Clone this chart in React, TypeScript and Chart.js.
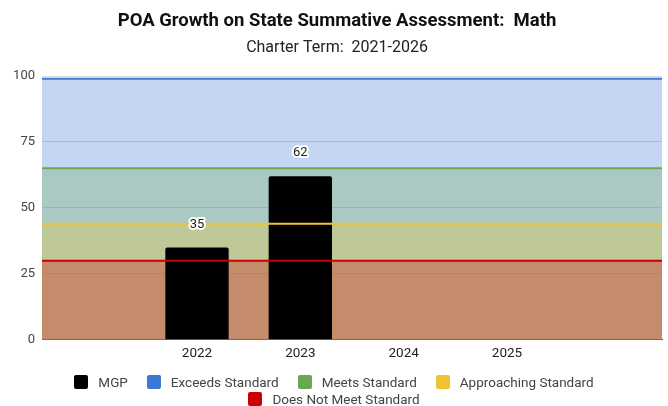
import React, { useEffect, useRef } from "react";
import { Chart, registerables } from "chart.js";

Chart.register(...registerables);

const titleText = "POA Growth on State Summative Assessment:  Math";
const subtitleText = "Charter Term:  2021-2026";

const categories = ["", "2022", "2023", "2024", "2025", ""];
const mgpLabel = "MGP";
const mgpValues: (number | null)[] = [null, 35, 62, null, null, null];
const mgpColor = "#000000";

const thresholdNames = ["Exceeds Standard", "Meets Standard", "Approaching Standard", "Does Not Meet Standard"];
const thresholdValues = [99, 65, 44, 30];
const thresholdColors = ["#3c78d8", "#6aa84f", "#f1c232", "#cc0000"];
const thresholdFills = [
  "rgba(60,120,216,0.3)",
  "rgba(106,168,79,0.3)",
  "rgba(241,194,50,0.3)",
  "rgba(204,0,0,0.3)",
];

const yMin = 0;
const yMax = 100;
const yStep = 25;

const FONT = "Roboto";

const barLabelPlugin = {
  id: "barLabels",
  afterDatasetsDraw(chart: any) {
    const meta = chart.getDatasetMeta(0);
    const ctx = chart.ctx;
    ctx.save();
    ctx.font = `13px ${FONT}`;
    ctx.textAlign = "center";
    ctx.textBaseline = "middle";
    ctx.lineJoin = "round";
    meta.data.forEach((el: any, i: number) => {
      const v = mgpValues[i];
      if (v == null) return;
      const x = el.x;
      const y = el.y - 23;
      ctx.lineWidth = 4;
      ctx.strokeStyle = "#ffffff";
      ctx.strokeText(String(v), x, y);
      ctx.fillStyle = "#222222";
      ctx.fillText(String(v), x, y);
    });
    ctx.restore();
  },
};

export default function App() {
  const ref = useRef<HTMLCanvasElement | null>(null);

  useEffect(() => {
    if (!ref.current) return;
    const lineSets = thresholdNames.map((name, i) => ({
      type: "line" as const,
      label: name,
      xAxisID: "xLine",
      yAxisID: "y",
      data: [
        { x: 0, y: thresholdValues[i] },
        { x: 1, y: thresholdValues[i] },
      ],
      borderColor: thresholdColors[i],
      backgroundColor: thresholdFills[i],
      borderWidth: 2,
      pointRadius: 0,
      fill: "origin",
      order: 4 - i,
    }));

    const chart = new Chart(ref.current, {
      type: "bar",
      data: {
        labels: categories,
        datasets: [
          {
            type: "bar",
            label: mgpLabel,
            data: mgpValues,
            backgroundColor: mgpColor,
            borderRadius: 2,
            grouped: false,
            categoryPercentage: 1,
            barPercentage: 0.613,
            xAxisID: "x",
            yAxisID: "y",
            order: 10,
          } as any,
          ...(lineSets as any[]),
        ],
      },
      options: {
        animation: false,
        responsive: false,
        devicePixelRatio: 1,
        layout: { padding: { left: 12, right: 6, top: 0, bottom: 38 } },
        plugins: {
          legend: { display: false },
          tooltip: { enabled: false },
          filler: { drawTime: "beforeDatasetsDraw" } as any,
          title: {
            display: true,
            text: titleText,
            color: "#111111",
            font: { family: FONT, size: 18.5, weight: "bold" },
            padding: { top: 10.3, bottom: 5.9 },
          },
          subtitle: {
            display: true,
            text: subtitleText,
            color: "#222222",
            font: { family: FONT, size: 16, weight: "normal" },
            padding: { top: 0, bottom: 18.4 },
          },
        },
        scales: {
          x: {
            type: "category",
            grid: { display: false, drawTicks: false },
            border: { display: true, color: "#666666", width: 1 },
            ticks: { color: "#222222", font: { family: FONT, size: 13.5 }, padding: 6 },
          },
          xLine: {
            type: "linear",
            display: false,
            min: 0,
            max: 1,
            offset: false,
          },
          y: {
            min: yMin,
            max: yMax,
            ticks: { stepSize: yStep, color: "#444444", font: { family: FONT, size: 13 }, padding: 7 },
            grid: {
              drawTicks: false,
              color: (c: any) => (c.tick && c.tick.value === 0 ? "#666666" : "#d9d9d9"),
            },
            border: { display: false },
            afterFit: (s: any) => {
              s.width = 30;
            },
          },
        },
      } as any,
      plugins: [barLabelPlugin],
    });
    return () => chart.destroy();
  }, []);

  const legendItems = [
    { name: mgpLabel, color: mgpColor },
    ...thresholdNames.map((n, i) => ({ name: n, color: thresholdColors[i] })),
  ];

  return (
    <div style={{ position: "absolute", left: 0, top: 0, width: 668, height: 406, background: "#ffffff", overflow: "hidden" }}>
      <canvas ref={ref} width={668} height={406} style={{ display: "block", width: 668, height: 406 }} />
      <div
        style={{
          position: "absolute",
          top: 375,
          left: 0,
          width: 668,
          display: "flex",
          flexWrap: "wrap",
          justifyContent: "center",
          columnGap: 19,
          rowGap: 3.3,
          fontFamily: FONT,
          fontSize: 13.5,
          color: "#444444",
        }}
      >
        {legendItems.map((it) => (
          <div key={it.name} style={{ display: "flex", alignItems: "center", height: 14, lineHeight: "14px", whiteSpace: "nowrap" }}>
            <span style={{ display: "inline-block", width: 14, height: 14, borderRadius: 2, background: it.color, marginRight: 10 }} />
            <span>{it.name}</span>
          </div>
        ))}
      </div>
    </div>
  );
}
